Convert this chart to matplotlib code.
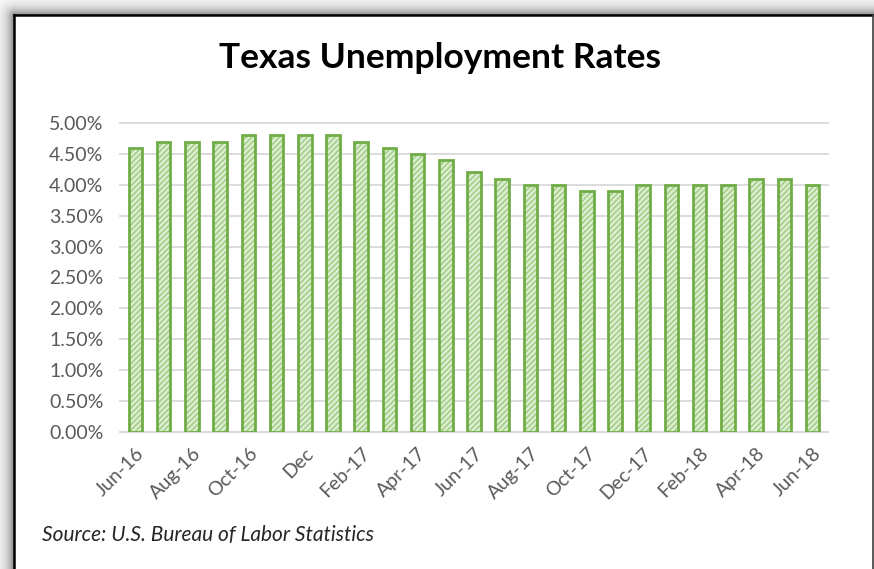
import numpy as np
import matplotlib
matplotlib.use("Agg")
import matplotlib.pyplot as plt
from matplotlib.ticker import FuncFormatter, MultipleLocator

# ---- data ----
months = ["Jun-16", "Jul-16", "Aug-16", "Sep-16", "Oct-16", "Nov-16", "Dec",
          "Jan-17", "Feb-17", "Mar-17", "Apr-17", "May-17", "Jun-17", "Jul-17",
          "Aug-17", "Sep-17", "Oct-17", "Nov-17", "Dec-17", "Jan-18", "Feb-18",
          "Mar-18", "Apr-18", "May-18", "Jun-18"]
rates = [4.6, 4.7, 4.7, 4.7, 4.8, 4.8, 4.8, 4.8, 4.7, 4.6, 4.5, 4.4, 4.2, 4.1,
         4.0, 4.0, 3.9, 3.9, 4.0, 4.0, 4.0, 4.0, 4.1, 4.1, 4.0]
title = "Texas Unemployment Rates"
source = "Source: U.S. Bureau of Labor Statistics"

W, H = 874, 569
plt.rcParams['font.family'] = ['Lato', 'DejaVu Sans']
plt.rcParams['hatch.linewidth'] = 1.4

fig = plt.figure(figsize=(W / 100, H / 100), dpi=100)

# ---- background with shadow and frame ----
bg = fig.add_axes([0, 0, 1, 1], zorder=-10)
yy, xx = np.mgrid[0:H, 0:W]
fx0, fy0 = 14, 15
dx = np.clip(fx0 - xx, 0, None)
dy = np.clip(fy0 - yy, 0, None)
d = np.sqrt(dx ** 2 + dy ** 2)
inside = (xx >= fx0) & (yy >= fy0)
val = 255 - 135 * np.exp(-d / 7.0)
val = np.where(inside, 255, val)
img = np.dstack([val, val, val]).astype(np.uint8)
bg.imshow(img, extent=[0, W, H, 0], aspect='auto', interpolation='bilinear')
bg.set_xlim(0, W)
bg.set_ylim(H, 0)
bg.plot([fx0, W - 1.5], [fy0, fy0], color='black', lw=1.8)
bg.plot([fx0, fx0], [fy0, H], color='black', lw=1.8)
bg.plot([W - 1.5, W - 1.5], [fy0, H], color='#404040', lw=1.2)
bg.axis('off')

# ---- chart ----
ax = fig.add_axes([120 / W, 1 - 432 / H, (828 - 120) / W, (432 - 123) / H])
x = np.arange(len(months))
ax.bar(x, rates, width=0.48, color='#E2F0D9', edgecolor='#A9D18E',
       hatch='//////', linewidth=0, zorder=3)
ax.bar(x, rates, width=0.48, fill=False, edgecolor='#70AD47',
       linewidth=2.0, zorder=4)

ax.set_xlim(-0.55, len(months) - 0.45)
ax.set_ylim(0, 5)
ax.yaxis.set_major_locator(MultipleLocator(0.5))
ax.yaxis.set_major_formatter(FuncFormatter(lambda v, p: f"{v:.2f}%"))
ax.grid(axis='y', color='#D9D9D9', linewidth=1.3, zorder=0)
ax.set_axisbelow(True)
for s in ['top', 'right', 'left']:
    ax.spines[s].set_visible(False)
ax.spines['bottom'].set_color('#D9D9D9')
ax.spines['bottom'].set_linewidth(1.3)
for gl in ax.get_ygridlines():
    gl.set_clip_on(False)

ax.tick_params(axis='y', length=0, pad=12, labelsize=14, labelcolor='#595959')
ax.tick_params(axis='x', length=0, pad=9, labelsize=14, labelcolor='#595959')
tick_idx = x[::2]
ax.set_xticks(tick_idx)
ax.set_xticklabels([months[i] for i in tick_idx], rotation=45, ha='right',
                   va='top', rotation_mode='anchor')

fig.text(440 / W, 1 - 68 / H, title, ha='center', va='baseline',
         fontsize=25.5, fontweight='bold', color='black')
fig.text(42 / W, 1 - 541 / H, source, ha='left', va='baseline',
         fontsize=15, style='italic', color='#262626')

fig.savefig('out.png', dpi=100)
